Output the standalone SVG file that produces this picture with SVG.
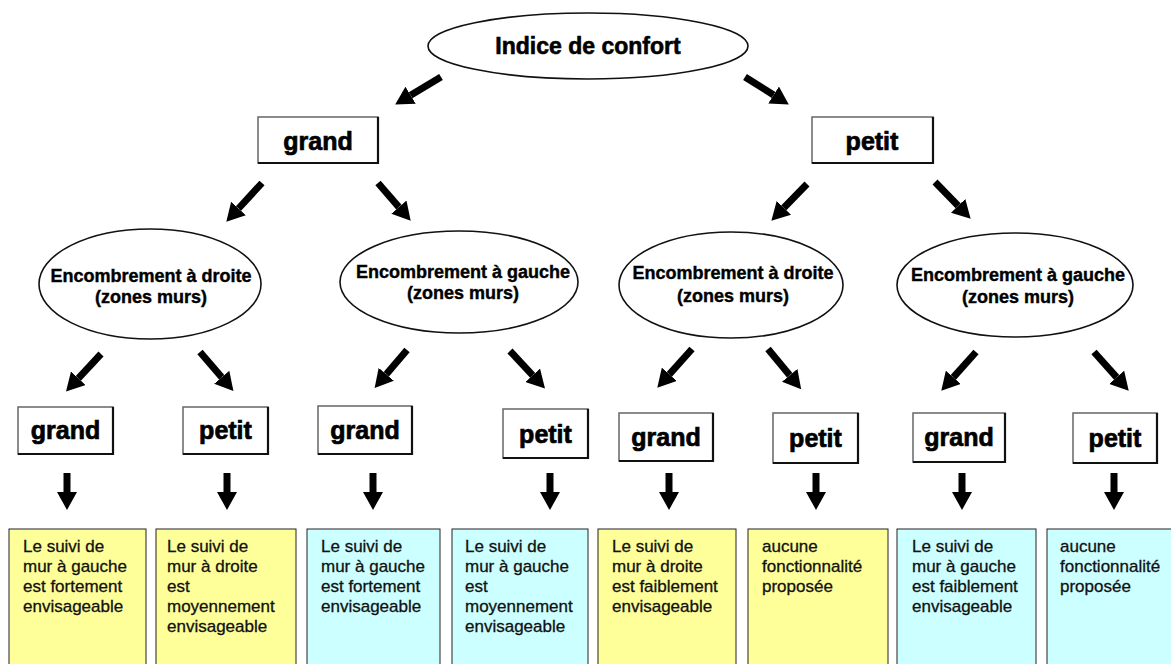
<svg xmlns="http://www.w3.org/2000/svg" width="1171" height="664" viewBox="0 0 1171 664">
<defs>
<style>
.ell{fill:#fff;stroke:#111;stroke-width:1.6}
.box{fill:#fff;stroke:#666;stroke-width:1.5}
.sh{fill:none;stroke:#111;stroke-width:2.2}
.lbl{font-family:"Liberation Sans",Arial,sans-serif;font-weight:bold;font-size:25px;fill:#000;stroke:#000;stroke-width:0.7;text-anchor:middle}
.el{font-family:"Liberation Sans",Arial,sans-serif;font-weight:bold;font-size:18px;fill:#000;stroke:#000;stroke-width:0.4;text-anchor:middle}
.ttl{font-family:"Liberation Sans",Arial,sans-serif;font-weight:bold;font-size:23px;fill:#000;stroke:#000;stroke-width:0.6;text-anchor:middle}
.note{stroke:#222;stroke-width:1}
.y{fill:#ffff99}
.c{fill:#ccffff}
.nt{font-family:"Liberation Sans",Arial,sans-serif;font-size:17px;fill:#111;stroke:#111;stroke-width:0.3}
.arr{stroke:#000;stroke-width:7;fill:none;marker-end:url(#ah)}
</style>
<marker id="ah" markerUnits="userSpaceOnUse" viewBox="0 0 18 20" markerWidth="18" markerHeight="20" refX="0" refY="10" orient="auto">
<path d="M0,0 L18,10 L0,20 z" fill="#000"/>
</marker>
</defs>

<g id="connectors">
<line class="arr" x1="441" y1="77" x2="410.6" y2="95.3"/>
<line class="arr" x1="745" y1="77" x2="773.6" y2="95"/>
<line class="arr" x1="262" y1="183" x2="238.5" y2="208.5"/>
<line class="arr" x1="378" y1="183" x2="398.9" y2="207.1"/>
<line class="arr" x1="807" y1="184" x2="783.9" y2="207.8"/>
<line class="arr" x1="935" y1="182" x2="958.1" y2="205.8"/>
<line class="arr" x1="101" y1="354" x2="78.3" y2="378.3"/>
<line class="arr" x1="200" y1="352" x2="221.7" y2="377.3"/>
<line class="arr" x1="407" y1="350" x2="386.3" y2="374.3"/>
<line class="arr" x1="510" y1="351" x2="532.7" y2="375.3"/>
<line class="arr" x1="692" y1="349" x2="669.3" y2="374.3"/>
<line class="arr" x1="768" y1="349" x2="789.7" y2="375.3"/>
<line class="arr" x1="976" y1="352" x2="953.3" y2="377.3"/>
<line class="arr" x1="1094" y1="352" x2="1116.7" y2="377.3"/>
<line class="arr" x1="67" y1="473" x2="67" y2="492"/>
<line class="arr" x1="227" y1="473" x2="227" y2="492"/>
<line class="arr" x1="373" y1="473" x2="373" y2="492"/>
<line class="arr" x1="550" y1="473" x2="550" y2="492"/>
<line class="arr" x1="669" y1="473" x2="669" y2="492"/>
<line class="arr" x1="816" y1="473" x2="816" y2="492"/>
<line class="arr" x1="962" y1="473" x2="962" y2="492"/>
<line class="arr" x1="1114" y1="473" x2="1114" y2="492"/>
</g>

<g id="root">
<ellipse class="ell" cx="588" cy="46" rx="160" ry="33"/>
<text class="ttl" x="588" y="54">Indice de confort</text>
</g>

<g id="grand-top">
<rect class="box" x="258" y="117" width="120" height="46"/>
<path class="sh" d="M258,163 H378 V117"/>
<text class="lbl" x="318" y="150">grand</text>
</g>
<g id="petit-top">
<rect class="box" x="812" y="117" width="121" height="46"/>
<path class="sh" d="M812,163 H933 V117"/>
<text class="lbl" x="872" y="150">petit</text>
</g>

<g id="enc1">
<ellipse class="ell" cx="150" cy="284" rx="111" ry="55"/>
<text class="el" x="151" y="282">Encombrement à droite</text>
<text class="el" x="151" y="303">(zones murs)</text>
</g>
<g id="enc2">
<ellipse class="ell" cx="459" cy="282" rx="119" ry="51"/>
<text class="el" x="463" y="278">Encombrement à gauche</text>
<text class="el" x="463" y="299">(zones murs)</text>
</g>
<g id="enc3">
<ellipse class="ell" cx="731" cy="285" rx="112" ry="53"/>
<text class="el" x="733" y="279">Encombrement à droite</text>
<text class="el" x="733" y="302">(zones murs)</text>
</g>
<g id="enc4">
<ellipse class="ell" cx="1015" cy="285" rx="118" ry="52"/>
<text class="el" x="1018" y="281">Encombrement à gauche</text>
<text class="el" x="1018" y="303">(zones murs)</text>
</g>

<g id="g1"><rect class="box" x="18" y="407" width="95" height="47"/><path class="sh" d="M18,454 H113 V407"/><text class="lbl" x="65.5" y="439">grand</text></g>
<g id="p1"><rect class="box" x="183" y="407" width="85" height="47"/><path class="sh" d="M183,454 H268 V407"/><text class="lbl" x="225.5" y="439">petit</text></g>
<g id="g2"><rect class="box" x="318" y="406" width="94" height="48"/><path class="sh" d="M318,454 H412 V406"/><text class="lbl" x="365" y="439">grand</text></g>
<g id="p2"><rect class="box" x="503" y="409" width="85" height="49"/><path class="sh" d="M503,458 H588 V409"/><text class="lbl" x="545.5" y="443">petit</text></g>
<g id="g3"><rect class="box" x="619" y="413" width="94" height="48"/><path class="sh" d="M619,461 H713 V413"/><text class="lbl" x="666" y="446">grand</text></g>
<g id="p3"><rect class="box" x="773" y="413" width="85" height="50"/><path class="sh" d="M773,463 H858 V413"/><text class="lbl" x="815.5" y="447">petit</text></g>
<g id="g4"><rect class="box" x="913" y="413" width="92" height="49"/><path class="sh" d="M913,462 H1005 V413"/><text class="lbl" x="959" y="446">grand</text></g>
<g id="p4"><rect class="box" x="1073" y="413" width="84" height="50"/><path class="sh" d="M1073,463 H1157 V413"/><text class="lbl" x="1115" y="447">petit</text></g>

<g id="r1"><rect class="note y" x="9" y="529" width="137" height="145"/>
<text class="nt"><tspan x="23" y="552">Le suivi de</tspan><tspan x="23" y="572">mur à gauche</tspan><tspan x="23" y="592">est fortement</tspan><tspan x="23" y="612">envisageable</tspan></text></g>
<g id="r2"><rect class="note y" x="156" y="529" width="140" height="145"/>
<text class="nt"><tspan x="167" y="552">Le suivi de</tspan><tspan x="167" y="572">mur à droite</tspan><tspan x="167" y="592">est</tspan><tspan x="167" y="612">moyennement</tspan><tspan x="167" y="632">envisageable</tspan></text></g>
<g id="r3"><rect class="note c" x="307" y="529" width="133" height="145"/>
<text class="nt"><tspan x="321" y="552">Le suivi de</tspan><tspan x="321" y="572">mur à gauche</tspan><tspan x="321" y="592">est fortement</tspan><tspan x="321" y="612">envisageable</tspan></text></g>
<g id="r4"><rect class="note c" x="452" y="529" width="136" height="145"/>
<text class="nt"><tspan x="465" y="552">Le suivi de</tspan><tspan x="465" y="572">mur à gauche</tspan><tspan x="465" y="592">est</tspan><tspan x="465" y="612">moyennement</tspan><tspan x="465" y="632">envisageable</tspan></text></g>
<g id="r5"><rect class="note y" x="598" y="529" width="138" height="145"/>
<text class="nt"><tspan x="612" y="552">Le suivi de</tspan><tspan x="612" y="572">mur à droite</tspan><tspan x="612" y="592">est faiblement</tspan><tspan x="612" y="612">envisageable</tspan></text></g>
<g id="r6"><rect class="note y" x="748" y="529" width="140" height="145"/>
<text class="nt"><tspan x="762" y="552">aucune</tspan><tspan x="762" y="572">fonctionnalité</tspan><tspan x="762" y="592">proposée</tspan></text></g>
<g id="r7"><rect class="note c" x="897" y="529" width="139" height="145"/>
<text class="nt"><tspan x="912" y="552">Le suivi de</tspan><tspan x="912" y="572">mur à gauche</tspan><tspan x="912" y="592">est faiblement</tspan><tspan x="912" y="612">envisageable</tspan></text></g>
<g id="r8"><rect class="note c" x="1047" y="529" width="140" height="145"/>
<text class="nt"><tspan x="1060" y="552">aucune</tspan><tspan x="1060" y="572">fonctionnalité</tspan><tspan x="1060" y="592">proposée</tspan></text></g>
</svg>
